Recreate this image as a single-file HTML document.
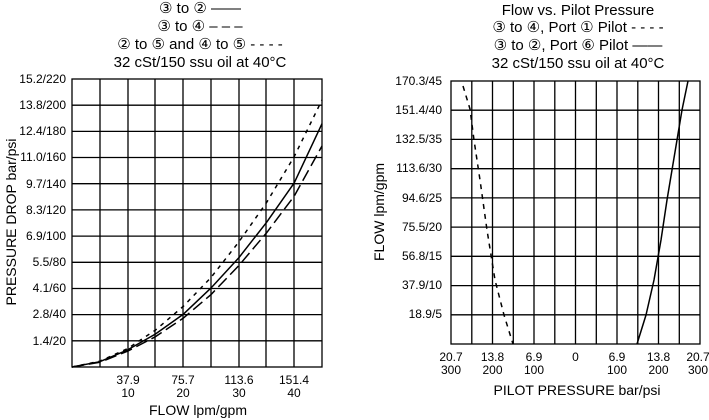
<!DOCTYPE html>
<html><head><meta charset="utf-8"><style>
html,body{margin:0;padding:0;background:#fff;}
svg{display:block;font-family:"Liberation Sans","DejaVu Sans",sans-serif;}
</style></head><body>
<svg width="709" height="420" viewBox="0 0 709 420" xmlns="http://www.w3.org/2000/svg">
<g font-size="15" text-anchor="middle" fill="#000">
<text x="200" y="13">③ to ② ——</text>
<text x="200" y="31">③ to ④ – – –</text>
<text x="200" y="49">② to ⑤ and ④ to ⑤ - - - -</text>
<text x="200" y="67">32 cSt/150 ssu oil at 40°C</text>
<text x="578" y="15">Flow vs. Pilot Pressure</text>
<text x="578" y="32">③ to ④, Port ① Pilot - - - -</text>
<text x="578" y="50">③ to ②, Port ⑥ Pilot ——</text>
<text x="578" y="68">32 cSt/150 ssu oil at 40°C</text>
</g>
<!-- Left grid -->
<g stroke="#000" stroke-width="1.3" fill="none">
<rect x="72" y="79" width="250" height="288"/>
<path d="M100 79V367M128 79V367M155 79V367M183 79V367M211 79V367M239 79V367M266 79V367M294 79V367"/>
<path d="M72 105.2H322M72 131.4H322M72 157.5H322M72 183.7H322M72 209.9H322M72 236.1H322M72 262.3H322M72 288.5H322M72 314.6H322M72 340.8H322"/>
</g>
<g font-size="12" text-anchor="end">
<text x="66" y="83">15.2/220</text><text x="66" y="109">13.8/200</text><text x="66" y="135">12.4/180</text>
<text x="66" y="161">11.0/160</text><text x="66" y="188">9.7/140</text><text x="66" y="214">8.3/120</text>
<text x="66" y="240">6.9/100</text><text x="66" y="266">5.5/80</text><text x="66" y="292">4.1/60</text>
<text x="66" y="318">2.8/40</text><text x="66" y="345">1.4/20</text>
</g>
<g font-size="12" text-anchor="middle">
<text x="128" y="384">37.9</text><text x="128" y="397">10</text>
<text x="183" y="384">75.7</text><text x="183" y="397">20</text>
<text x="239" y="384">113.6</text><text x="239" y="397">30</text>
<text x="294" y="384">151.4</text><text x="294" y="397">40</text>
<text x="198" y="415" font-size="14">FLOW lpm/gpm</text>
<text transform="translate(16,222) rotate(-90)" font-size="14">PRESSURE DROP bar/psi</text>
</g>
<g fill="none" stroke="#000" stroke-width="1.5" stroke-linejoin="round">
<polyline points="72,367 99.8,361.7 127.6,349.9 155.3,334.1 183.1,314.4 210.9,288.1 238.7,257.9 266.5,222.4 294.2,182.9 322,123.7"/>
<polyline stroke-dasharray="4,5" points="72,367 99.8,361.2 127.6,348.6 155.3,330.2 183.1,306.5 210.9,277.6 238.7,242.1 266.5,202.6 294.2,156.6 322,100"/>
<polyline stroke-dasharray="12,5" points="72,367 99.8,362.3 127.6,351.2 155.3,336.8 183.1,318.3 210.9,294.7 238.7,265.7 266.5,232.9 294.2,196.1 322,146"/>
</g>
<!-- Right grid -->
<g stroke="#000" stroke-width="1.3" fill="none">
<rect x="451" y="81" width="249" height="263"/>
<path d="M471.8 81V344M492.5 81V344M513.3 81V344M534 81V344M554.8 81V344M575.5 81V344M596.3 81V344M617 81V344M637.8 81V344M658.5 81V344M679.3 81V344"/>
<path d="M451 110.2H700M451 139.4H700M451 168.7H700M451 197.9H700M451 227.1H700M451 256.3H700M451 285.6H700M451 314.8H700"/>
</g>
<g font-size="12" text-anchor="end">
<text x="442" y="85">170.3/45</text><text x="442" y="114">151.4/40</text><text x="442" y="143">132.5/35</text>
<text x="442" y="172">113.6/30</text><text x="442" y="202">94.6/25</text><text x="442" y="231">75.5/20</text>
<text x="442" y="260">56.8/15</text><text x="442" y="289">37.9/10</text><text x="442" y="318">18.9/5</text>
</g>
<g font-size="12" text-anchor="middle">
<text x="451" y="361">20.7</text><text x="451" y="374">300</text>
<text x="492.5" y="361">13.8</text><text x="492.5" y="374">200</text>
<text x="534" y="361">6.9</text><text x="534" y="374">100</text>
<text x="575.5" y="361">0</text>
<text x="617" y="361">6.9</text><text x="617" y="374">100</text>
<text x="658.5" y="361">13.8</text><text x="658.5" y="374">200</text>
<text x="698" y="361">20.7</text><text x="698" y="374">300</text>
<text x="577" y="395" font-size="14">PILOT PRESSURE bar/psi</text>
<text transform="translate(384,212) rotate(-90)" font-size="14">FLOW lpm/gpm</text>
</g>
<g fill="none" stroke="#000" stroke-width="1.5">
<polyline stroke-dasharray="5,5" points="463,86 470,109 474,140 480,180 487,230 495,280 504,315 513,344"/>
<polyline points="637,344 646,315 654,280 661,240 667,200 672,170 677,140 682,110 688,81"/>
</g>
</svg>
</body></html>
